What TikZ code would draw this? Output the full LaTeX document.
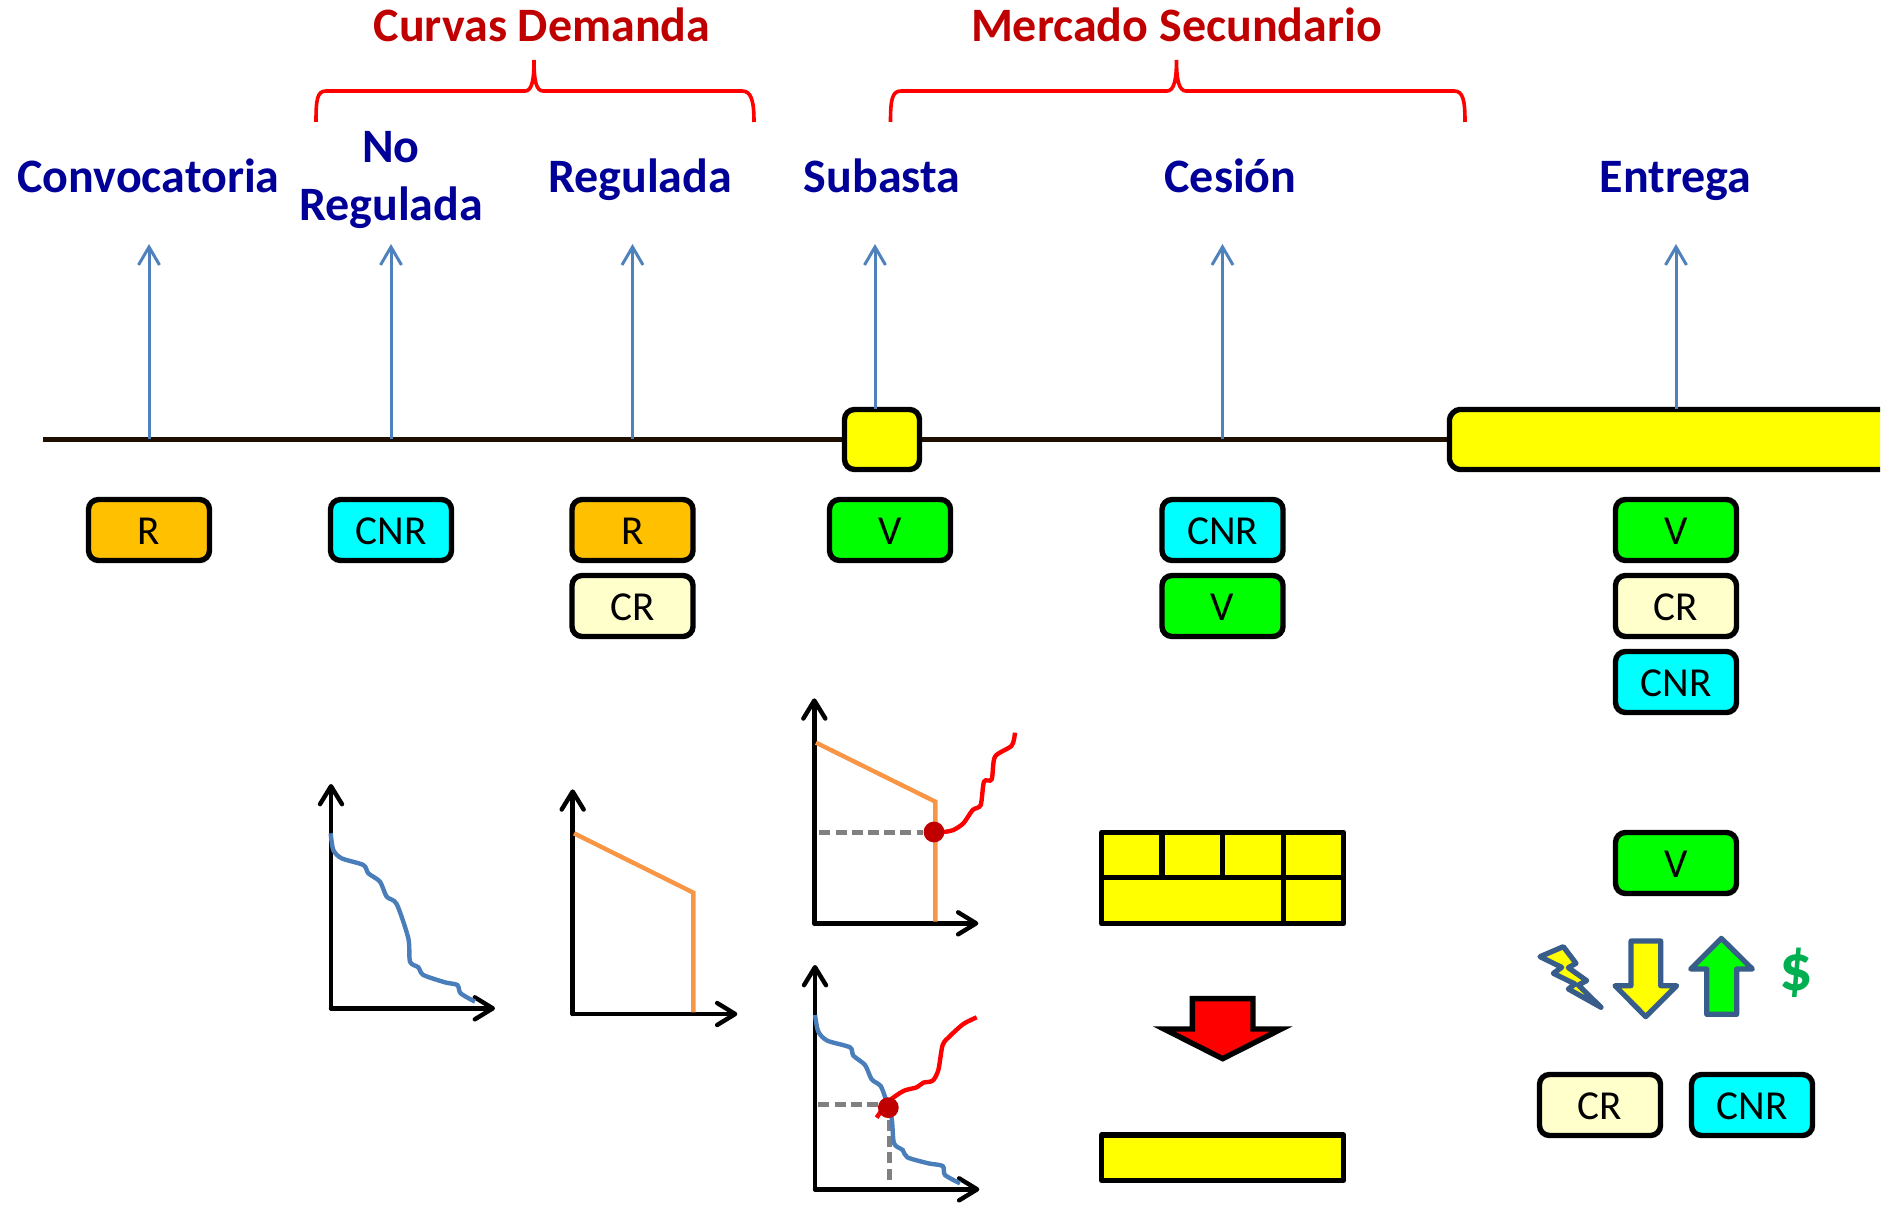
\documentclass[tikz,border=0pt]{standalone}
\usepackage{fontspec}
\setmainfont{Carlito}
\usetikzlibrary{arrows.meta}
\definecolor{lblue}{HTML}{000099}
\definecolor{ttl}{HTML}{C00000}
\definecolor{tline}{HTML}{1F0F00}
\definecolor{arrowblue}{HTML}{4F81BD}
\definecolor{curveblue}{HTML}{4A7EBB}
\definecolor{orangec}{HTML}{F79646}
\definecolor{outl}{HTML}{385D8A}
\definecolor{amber}{HTML}{FFC000}
\definecolor{crfill}{HTML}{FFFFCC}
\definecolor{dollar}{HTML}{00B050}
\definecolor{pureyellow}{RGB}{255,255,0}
\definecolor{purecyan}{RGB}{0,255,255}
\definecolor{puregreen}{RGB}{0,255,0}
\definecolor{purered}{RGB}{255,0,0}
\tikzset{
  px/.style={x=0.5pt,y=-0.5pt},
  zoomed/.style={x=0.16667pt,y=-0.16667pt},
  tag/.style={draw=black,line width=2.7pt,rounded corners=5pt,minimum width=60.5pt,minimum height=30.5pt,inner sep=0pt,text height=14.2pt,text depth=0pt,font=\fontsize{20.6}{24}\selectfont,text=black},
  rtag/.style={tag,fill=amber},
  cnrtag/.style={tag,fill=purecyan},
  crtag/.style={tag,fill=crfill},
  vtag/.style={tag,fill=puregreen},
  phase/.style={font=\fontsize{24}{26}\selectfont\bfseries,text=lblue,inner sep=0pt,anchor=base},
  title/.style={font=\fontsize{24}{26}\selectfont\bfseries,text=ttl,inner sep=0pt,anchor=base},
  riser/.style={draw=arrowblue,line width=1.5pt,-{Straight Barb[length=9pt,width=10.5pt,line width=1.5pt]}},
  brace/.style={draw=purered,line width=1.8pt},
  axis/.style={draw=black,line width=2.2pt,line cap=round,line join=round,-{Straight Barb[length=9pt,width=11pt,line width=2.2pt,round]}},
  bcurve/.style={draw=curveblue,line width=2.2pt},
  rcurve/.style={draw=purered,line width=2.2pt},
  ocurve/.style={draw=orangec,line width=2.2pt},
  gdash/.style={draw=gray,line width=2.2pt,dash pattern=on 5.5pt off 2.6pt},
  eqdot/.style={circle,fill=ttl,minimum size=10.4pt,inner sep=0pt},
  ybox/.style={draw=black,fill=pureyellow,line width=2.7pt},
  iconshape/.style={draw=outl,line width=2.6pt,line join=round},
}
\begin{document}
\begin{tikzpicture}[px]
\useasboundingbox (0,0) rectangle (1892,1209);
% timeline
\coordinate (tstart) at (43,439.5);
\coordinate (t1) at (149,439.5);
\coordinate (t2) at (391,439.5);
\coordinate (t3) at (632.5,439.5);
\coordinate (t5) at (1222.5,439.5);
\coordinate (a1) at (149,244);
\coordinate (a2) at (391,244);
\coordinate (a3) at (632.5,244);
\coordinate (a4) at (875,244);
\coordinate (a5) at (1222.5,244);
\coordinate (a6) at (1676,244);
\coordinate (t4) at (875,409);
\coordinate (t6) at (1676,409);
\coordinate (barleft) at (1449.5,439.5);
\draw[draw=tline,line width=2.7pt] (tstart) -- (barleft);
\node[draw=black,fill=pureyellow,line width=2.7pt,rounded corners=5pt,minimum width=37.5pt,minimum height=30pt,inner sep=0pt] (auction) at (882,439.5) {};
\path[fill=pureyellow] (1880,409.5) -- (1459.5,409.5) to[out=180,in=90,looseness=0.8] (1449.5,419.5) -- (1449.5,459.5) to[out=-90,in=180,looseness=0.8] (1459.5,469.5) -- (1880,469.5) -- cycle;
\draw[draw=black,line width=2.7pt] (1880,409.5) -- (1459.5,409.5) to[out=180,in=90,looseness=0.8] (1449.5,419.5) -- (1449.5,459.5) to[out=-90,in=180,looseness=0.8] (1459.5,469.5) -- (1880,469.5);
% risers
\draw[riser] (t1) -- (a1);
\draw[riser] (t2) -- (a2);
\draw[riser] (t3) -- (a3);
\draw[riser] (t4) -- (a4);
\draw[riser] (t5) -- (a5);
\draw[riser] (t6) -- (a6);
% phase labels
\node[phase] (conv) at (148.5,193) {Convocatoria};
\node[phase] (no) at (391,162.5) {No};
\node[phase] (noreg) at (391,221) {Regulada};
\node[phase] (reg) at (640,192.5) {Regulada};
\node[phase] (sub) at (882,192.5) {Subasta};
\node[phase] (ces) at (1230.5,192.5) {Cesión};
\node[phase] (ent) at (1675.5,192.5) {Entrega};
\node[title] (curvas) at (542,41.5) {Curvas Demanda};
\node[title] (mercado) at (1176.5,41.5) {Mercado Secundario};
% braces
\draw[brace] (316,122) .. controls (316,100) and (317,91) .. (326,91) -- (525,91) .. controls (532,91) and (534,80) .. (534,60) .. controls (534,80) and (536,91) .. (543,91) -- (742,91) .. controls (751,91) and (754,100) .. (754,122);
\draw[brace] (890.5,122) .. controls (890.5,100) and (892,91) .. (901,91) -- (1167,91) .. controls (1174,91) and (1176.5,80) .. (1176.5,60) .. controls (1176.5,80) and (1179,91) .. (1186,91) -- (1454,91) .. controls (1463,91) and (1465,100) .. (1465,122);
% tags
\node[rtag] (r1) at (149,530) {R};
\node[cnrtag] (c1) at (391,530) {CNR};
\node[rtag] (r2) at (632.5,530) {R};
\node[crtag] (cr2) at (632.5,606) {CR};
\node[vtag] (v3) at (890,530) {V};
\node[cnrtag] (c4) at (1222.5,530) {CNR};
\node[vtag] (v4) at (1222.5,606) {V};
\node[vtag] (v5) at (1676,530) {V};
\node[crtag] (cr5) at (1676,606) {CR};
\node[cnrtag] (c5) at (1676,682) {CNR};
\node[vtag] (v6) at (1676,863) {V};
\node[crtag] (cr6) at (1600,1105) {CR};
\node[cnrtag] (c6) at (1752,1105) {CNR};
% chart 1
\begin{scope}[shift={(300,760)},zoomed]
\draw[axis] (93,745) -- (93,72);
\draw[axis] (93,745) -- (585,745);
\draw[bcurve] plot[smooth,tension=0.45] coordinates {(92,220)(100,270)(125,295)(190,315)(205,340)(240,365)(260,410)(290,432)(325,535)(330,605)(355,622)(370,645)(435,667)(472,675)(482,700)(525,725)};
\end{scope}
% chart 2
\begin{scope}[shift={(300,760)},zoomed]
\draw[axis] (818,762) -- (818,88);
\draw[axis] (818,762) -- (1312,762);
\draw[ocurve] (822,220) -- (1180,398) -- (1180,757);
\end{scope}
% chart 3
\begin{scope}[shift={(790,680)},zoomed]
\draw[axis] (73,730) -- (73,55);
\draw[axis] (73,730) -- (565,730);
\draw[ocurve] (78,188) -- (436,365) -- (436,725);
\draw[gdash] (88,457) -- (400,457);
\draw[rcurve] plot[smooth,tension=0.45] coordinates {(462,456)(490,450)(520,430)(548,390)(572,375)(582,305)(605,298)(615,230)(665,197)(675,158)};
\node[eqdot] (dot3) at (432,456) {};
\end{scope}
% chart 4
\begin{scope}[shift={(790,950)},zoomed]
\draw[axis] (75,718) -- (75,45);
\draw[axis] (75,718) -- (568,718);
\draw[gdash] (85,463) -- (265,463);
\draw[gdash] (299,510) -- (299,690);
\draw[bcurve] plot[smooth,tension=0.45] coordinates {(75,195)(85,245)(112,272)(180,292)(190,317)(225,345)(245,388)(272,408)(288,450)(305,505)(312,580)(338,600)(352,622)(415,640)(458,648)(465,675)(510,700)};
\draw[rcurve] plot[smooth,tension=0.45] coordinates {(260,503)(295,455)(340,423)(380,412)(400,398)(428,392)(445,360)(458,285)(480,258)(520,222)(560,202)};
\node[eqdot] (dot4) at (295,473) {};
\end{scope}
% blocks and red arrow
\begin{scope}[shift={(1080,810)},zoomed]
\draw[ybox,line join=round] (65,67) rectangle (791,341);
\draw[draw=black,line width=2.7pt] (65,203) -- (791,203) (246,67) -- (246,203) (428,67) -- (428,203) (610,67) -- (610,341);
\draw[draw=black,fill=purered,line width=2.7pt,miter limit=10] (337,566) -- (519,566) -- (519,657) -- (604,657) -- (428,746) -- (252,657) -- (337,657) -- cycle;
\draw[ybox,line join=round] (65,975) rectangle (791,1111);
\end{scope}
% icons
\begin{scope}[shift={(1520,920)},zoomed]
\draw[iconshape,fill=pureyellow] (60,110) -- (130,80) -- (168,130) -- (145,143) -- (200,182) -- (175,195) -- (243,262) -- (145,207) -- (165,192) -- (100,160) -- (125,142) -- cycle;
\draw[iconshape,fill=pureyellow] (333,63) -- (422,63) -- (422,197) -- (470,197) -- (377,290) -- (285,197) -- (333,197) -- cycle;
\draw[iconshape,fill=puregreen] (604,55) -- (697,147) -- (650,147) -- (650,283) -- (560,283) -- (560,147) -- (512,147) -- cycle;
\node[inner sep=0pt,text=dollar,font=\fontsize{33}{36}\selectfont\bfseries] (usd) at (830,158) {\$};
\end{scope}
\end{tikzpicture}
\end{document}
